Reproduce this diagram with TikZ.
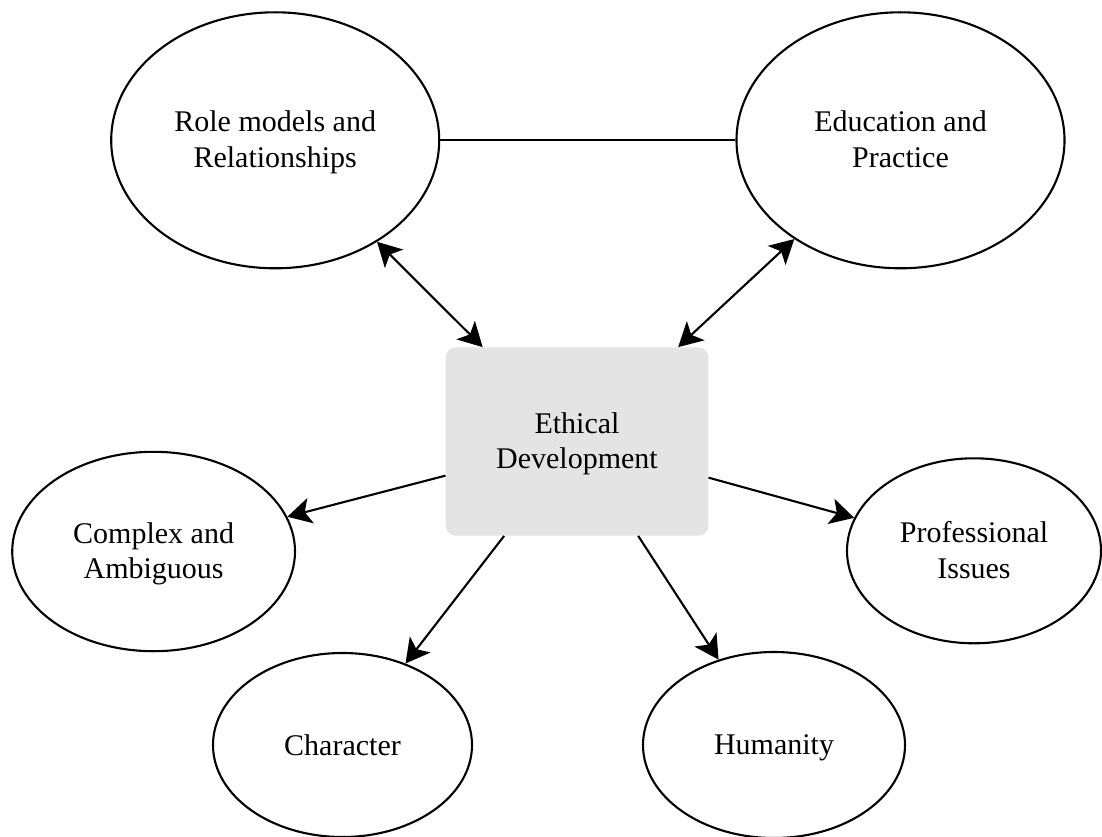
\documentclass[tikz,border=0pt]{standalone}
\usepackage{fontspec}
\setmainfont{Liberation Serif}
\usetikzlibrary{shapes.geometric,arrows.meta}
\definecolor{hubgray}{HTML}{E4E4E4}
\begin{document}
\begin{tikzpicture}[x=1pt,y=-1pt,
  every node/.style={font=\fontsize{30}{35.5}\selectfont, align=center, inner sep=0pt},
  topic/.style={ellipse, draw, line width=2.1pt},
  twoline/.style={text depth=2pt},
  oneline/.style={text depth=0pt},
  hub/.style={rectangle, rounded corners=10pt, fill=hubgray,
              minimum width=262.6pt, minimum height=188.4pt},
  link/.style={line width=2.1pt},
  arr/.style={link, -{Stealth[length=24pt,width=26pt,inset=6pt]}},
  biarr/.style={link, {Stealth[length=24pt,width=26pt,inset=6pt]}-{Stealth[length=24pt,width=26pt,inset=6pt]}},
]
\useasboundingbox (0,0) rectangle (1102,837);

% central hub
\node[hub, twoline] (ethic) at (577,441.5) {Ethical\\Development};

% upper pair of influences
\node[topic, twoline, minimum width=328pt, minimum height=256pt] (role) at (275.2,140.3) {Role models and\\Relationships};
\node[topic, twoline, minimum width=328pt, minimum height=256pt] (edu) at (900.5,140.3) {Education and\\Practice};

% outcomes
\node[topic, twoline, minimum width=282.8pt, minimum height=199.4pt] (cplx) at (153.6,551.5) {Complex and\\Ambiguous};
\node[topic, twoline, minimum width=254pt, minimum height=185pt] (prof) at (974,550.8) {Professional\\Issues};
\node[topic, oneline, minimum width=259pt, minimum height=184pt] (charac) at (342.5,745) {Character};
\node[topic, oneline, minimum width=262pt, minimum height=186pt] (human) at (774,745) {Humanity};

% connectors
\draw[link] (role) -- (edu);
\draw[biarr] (role) -- (ethic);
\draw[biarr] (edu) -- (ethic);
\draw[arr] (ethic) -- (cplx);
\draw[arr] (ethic) -- (prof);
\draw[arr] (ethic) -- (charac);
\draw[arr] (ethic) -- (human);
\end{tikzpicture}
\end{document}
